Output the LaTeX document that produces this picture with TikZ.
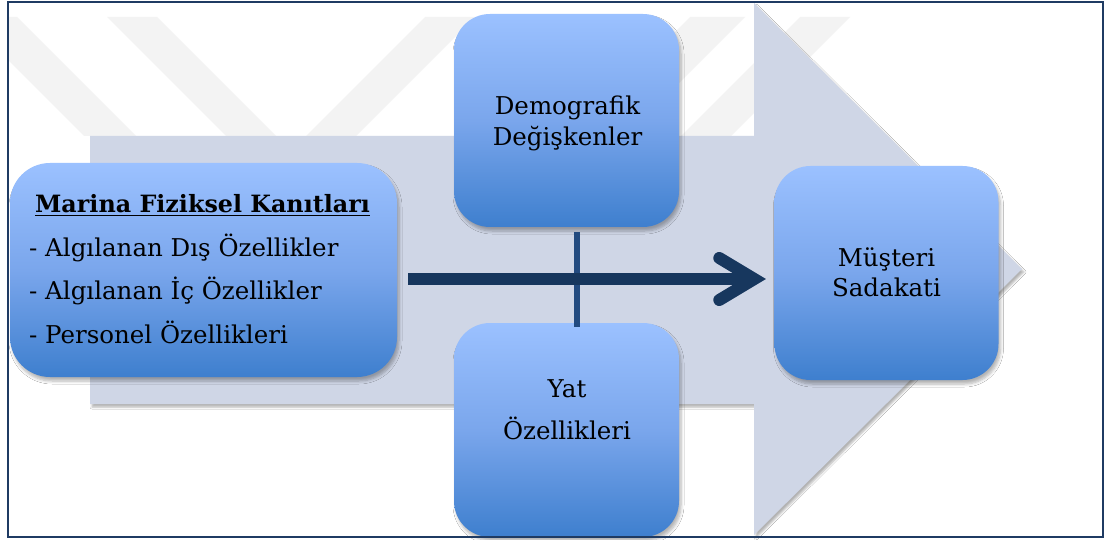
\documentclass[tikz,border=0pt]{standalone}
\usepackage{fontspec}
\setmainfont{DejaVu Serif}
\usetikzlibrary{shadows.blur}

\definecolor{framecol}{HTML}{1F3B63}
\definecolor{markcol}{HTML}{F3F3F3}
\definecolor{flowcol}{HTML}{CFD6E6}
\definecolor{boxtop}{HTML}{9BC1FF}
\definecolor{boxmid}{HTML}{7AA6EC}
\definecolor{boxbot}{HTML}{3E7FCE}
\definecolor{navy}{HTML}{17375E}
\definecolor{barcol}{HTML}{234B80}

\begin{document}
\begin{tikzpicture}[x=1pt,y=-1pt,
  card/.style={rectangle, rounded corners=36pt, draw=none, inner sep=0pt,
    top color=boxtop, bottom color=boxbot, middle color=boxmid,
    blur shadow={shadow xshift=2pt, shadow yshift=-4pt,
      shadow blur radius=3pt, shadow blur steps=6, shadow opacity=30}},
  lbl/.style={anchor=base, inner sep=0pt, text=black,
    font=\fontsize{24.5}{30}\selectfont},
  shaft/.style={draw=navy, line width=12pt, line cap=butt},
  chevron/.style={draw=navy, line width=12pt, line cap=round, line join=miter},
  crossbar/.style={draw=barcol, line width=6pt},
  band/.style={fill=markcol}]

\useasboundingbox (0,0) rectangle (1109,540);
\fill[white] (0,0) rectangle (1109,540);

% faint background emblem
\begin{scope}
  \clip (9,3) rectangle (1102,536);
  \fill[band] (-35,17) -- (17,17) -- (136,136) -- (84,136) -- cycle;
  \fill[band] (107,17) -- (157,17) -- (276,136) -- (226,136) -- cycle;
  \fill[band] (425,17) -- (475,17) -- (356,136) -- (306,136) -- cycle;
  \fill[band] (690,17) -- (745,17) -- (626,136) -- (571,136) -- cycle;
  \fill[band] (800,17) -- (850,17) -- (731,136) -- (681,136) -- cycle;
\end{scope}

% large flow arrow in the background
\fill[flowcol, blur shadow={shadow xshift=2pt, shadow yshift=-3pt,
      shadow blur radius=2pt, shadow blur steps=5, shadow opacity=30}]
  (90,136) -- (754,136) -- (754,3) -- (1022,269) -- (754,535)
  -- (754,404) -- (90,404) -- cycle;

% boxes
\node[card, minimum width=387pt, minimum height=214pt, rounded corners=40pt] (fiz) at (203.5,270) {};
\node[card, minimum width=225pt, minimum height=213pt] (demo) at (566.5,120.5) {};
\node[card, minimum width=225pt, minimum height=214pt] (yat) at (566.5,430) {};
\node[card, minimum width=224pt, minimum height=214pt] (mus) at (886.5,273) {};

% moderator bar between the two middle boxes
\draw[crossbar] ([xshift=10.5pt,yshift=-5pt]demo.south) -- ([xshift=10.5pt,yshift=-4pt]yat.north);

% main arrow
\draw[shaft] ([xshift=11pt,yshift=-9pt]fiz.east) -- ([xshift=-20pt,yshift=-6pt]mus.west) coordinate (tip);
\draw[chevron] ([xshift=-35pt,yshift=21pt]tip) -- (tip) -- ([xshift=-35pt,yshift=-21pt]tip);

% texts
\node[lbl, font=\fontsize{23.8}{30}\selectfont\bfseries] (fizT) at (202.5,213) {\underline{Marina Fiziksel Kanıtları}};
\node[lbl, anchor=base west] (fizA) at (29,257) {- Algılanan Dış Özellikler};
\node[lbl, anchor=base west] (fizB) at (29,300) {- Algılanan İç Özellikler};
\node[lbl, anchor=base west] (fizC) at (29,343) {- Personel Özellikleri};

\node[lbl] (demoA) at (567.5,115) {Demografik};
\node[lbl] (demoB) at (567.5,146) {Değişkenler};

\node[lbl] (yatA) at (567,397) {Yat};
\node[lbl] (yatB) at (567,439) {Özellikleri};

\node[lbl] (musA) at (886.5,267) {Müşteri};
\node[lbl] (musB) at (886.5,297) {Sadakati};

% frame
\draw[framecol, line width=2pt] (8,2) rectangle (1103,537);
\end{tikzpicture}
\end{document}
